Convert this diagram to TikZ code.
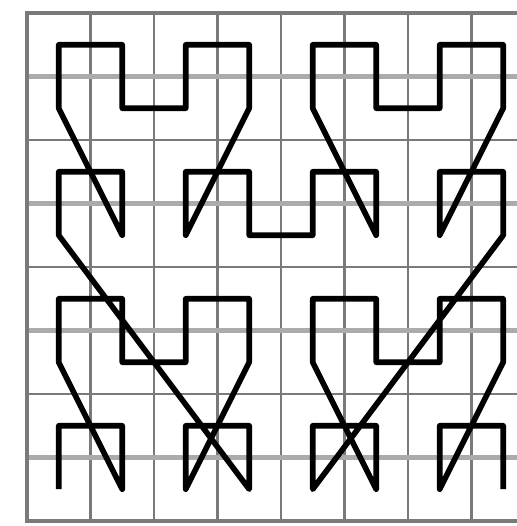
\documentclass[tikz,border=0pt]{standalone}
\usepackage{tikz}
\definecolor{gridlight}{HTML}{ABABAB}
\definecolor{griddark}{HTML}{7A7A7A}

\begin{document}
\begin{tikzpicture}[x=1cm, y=1cm]
      \def\N{8}

      % page: grid is cut off on the right
      \useasboundingbox (-0.425,-0.079) rectangle (7.717,8.205);
      \clip (-0.425,-0.079) rectangle (7.717,8.205);

      \foreach \i in {1,...,7}{
        \draw[griddark, line width=1pt] (\i,0) -- (\i,\N);
      }
      \foreach \i in {2,4,6}{
        \draw[griddark, line width=0.9pt] (0,\i) -- (\N,\i);
      }
      \foreach \i in {1,3,5,7}{
        \draw[gridlight, line width=2pt] (0,\i) -- (\N,\i);
      }
      \draw[griddark, line width=1.8pt] (0,0) rectangle (\N,\N);

      % curve through the cell centres, (column,row) with row 0 on top
      \begin{scope}[shift={(0.5,7.5)}, yscale=-1]
        \draw[black, line width=2.5pt, line join=round]
          (0,7) -- (0,6) -- (1,6) -- (1,7) -- (0,5) -- (0,4) -- (1,4) -- (1,5) --
          (2,5) -- (2,4) -- (3,4) -- (3,5) -- (2,7) -- (2,6) -- (3,6) -- (3,7) --
          (0,3) -- (0,2) -- (1,2) -- (1,3) -- (0,1) -- (0,0) -- (1,0) -- (1,1) --
          (2,1) -- (2,0) -- (3,0) -- (3,1) -- (2,3) -- (2,2) -- (3,2) -- (3,3) --
          (4,3) -- (4,2) -- (5,2) -- (5,3) -- (4,1) -- (4,0) -- (5,0) -- (5,1) --
          (6,1) -- (6,0) -- (7,0) -- (7,1) -- (6,3) -- (6,2) -- (7,2) -- (7,3) --
          (4,7) -- (4,6) -- (5,6) -- (5,7) -- (4,5) -- (4,4) -- (5,4) -- (5,5) --
          (6,5) -- (6,4) -- (7,4) -- (7,5) -- (6,7) -- (6,6) -- (7,6) -- (7,7);
      \end{scope}

\end{tikzpicture}
\end{document}
